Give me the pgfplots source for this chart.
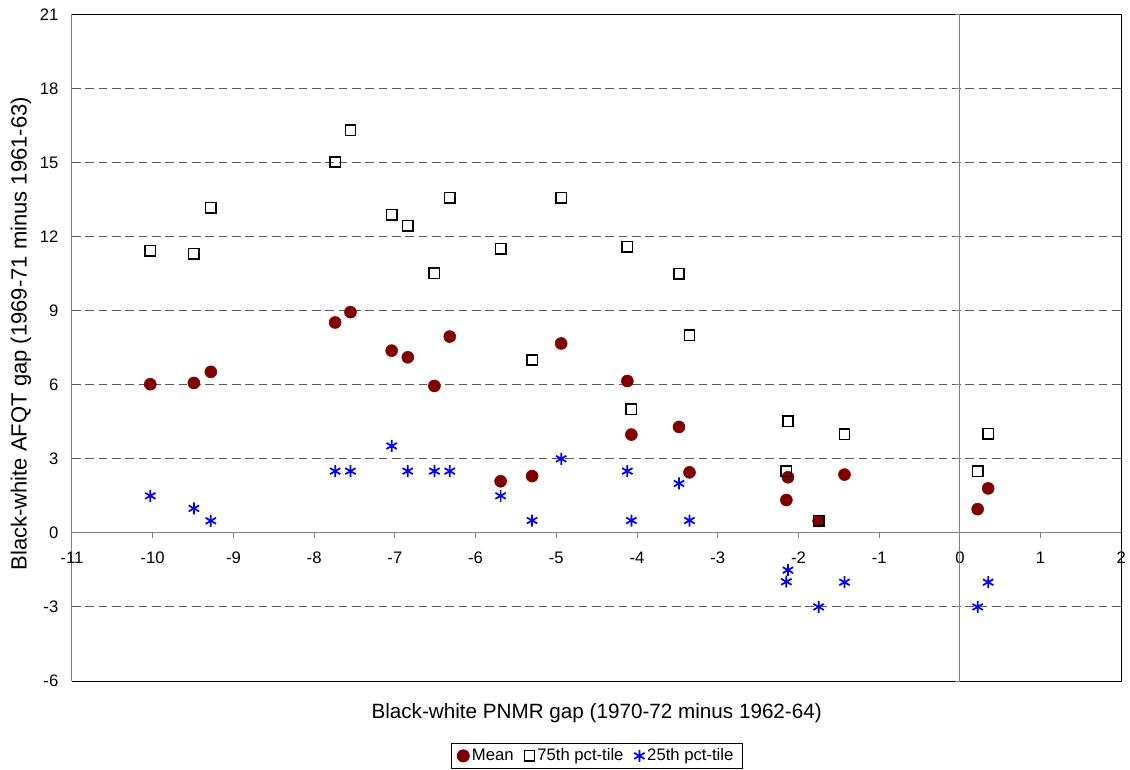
\documentclass[border=0pt]{standalone}
\usepackage{fontspec}
\setmainfont{Liberation Sans}
\usepackage{pgfplots}
\usepackage{pgfplotstable}
\pgfplotsset{compat=1.18}
\definecolor{meanred}{RGB}{128,0,0}
\definecolor{axgray}{RGB}{128,128,128}
\definecolor{gridgray}{RGB}{90,90,90}

\pgfplotstableread{
x y
-10.03 6.02
-9.49 6.07
-9.28 6.52
-7.74 8.52
-7.55 8.94
-7.04 7.38
-6.84 7.11
-6.51 5.95
-6.32 7.95
-5.69 2.09
-5.30 2.30
-4.94 7.67
-4.12 6.15
-4.07 3.98
-3.48 4.29
-3.35 2.45
-2.13 2.25
-2.15 1.33
-1.75 0.48
-1.43 2.36
0.22 0.96
0.35 1.80
}\meandata

\pgfplotstableread{
x y
-10.03 11.43
-9.49 11.30
-9.28 13.17
-7.74 15.02
-7.55 16.30
-7.04 12.88
-6.84 12.44
-6.51 10.52
-6.32 13.57
-5.69 11.50
-5.30 7.00
-4.94 13.57
-4.12 11.58
-4.07 5.01
-3.48 10.50
-3.35 8.01
-2.13 4.52
-2.15 2.50
-1.75 0.49
-1.43 4.00
0.22 2.50
0.35 4.02
}\pseventyfive

\pgfplotstableread{
x y
-10.03 1.50
-9.49 0.99
-9.28 0.49
-7.74 2.50
-7.55 2.50
-7.04 3.52
-6.84 2.50
-6.51 2.50
-6.32 2.50
-5.69 1.50
-5.30 0.50
-4.94 3.00
-4.12 2.50
-4.07 0.50
-3.48 2.00
-3.35 0.50
-2.13 -1.51
-2.15 -1.98
-1.75 -3.00
-1.43 -2.00
0.22 -3.00
0.35 -2.00
}\ptwentyfive

\begin{document}
\begin{tikzpicture}
\useasboundingbox (-54pt,-66pt) rectangle (793.5pt,510.75pt);
\begin{axis}[
  at={(0,0)}, anchor=south west,
  scale only axis, width=787pt, height=500pt,
  xmin=-11, xmax=2, ymin=-6, ymax=21,
  axis x line=middle, axis y line=left,
  axis line style={axgray, line width=0.75pt, -},
  xtick={-11,-10,...,2}, ytick={-6,-3,...,21},
  hide obscured x ticks=false,
  xtick style={axgray, line width=0.75pt},
  ytick style={draw=none},
  xtick align=outside, ytick align=outside,
  major tick length=3.75pt,
  ymajorgrids,
  grid style={gridgray, line width=0.75pt, dash pattern=on 6.5pt off 3.5pt},
  /pgf/number format/assume math mode=true,
  every tick label/.append style={font=\fontsize{12.5}{15}\selectfont},
  xticklabel style={yshift=-7pt},
  yticklabel style={xshift=-3pt},
  every axis x label/.style={at={(rel axis cs:0.5,0)}, anchor=center, yshift=-24pt, font=\fontsize{15.5}{18}\selectfont},
  every axis y label/.style={at={(rel axis cs:-0.0486,0.521)}, anchor=center, rotate=90, font=\fontsize{16.5}{19}\selectfont},
  xlabel={Black-white PNMR gap (1970-72 minus 1962-64)},
  ylabel={Black-white AFQT gap (1969-71 minus 1961-63)},
  legend columns=-1,
  legend style={at={(0.5,-0.093)}, anchor=north, draw=black, line width=0.75pt,
    font=\fontsize{12.5}{15}\selectfont, inner xsep=4.5pt, inner ysep=2pt,
    /tikz/every even column/.append style={column sep=6pt}},
  clip=false,
]
\draw[black, line width=0.75pt] (rel axis cs:0,0) -- (rel axis cs:1,0) -- (rel axis cs:1,1) -- (rel axis cs:0,1);
\draw[axgray, line width=0.75pt] (axis cs:0,-6) -- (axis cs:0,21);
\pgfplotsinvokeforeach{-6,-3,0,3,6,9,12,15,18,21}{
  \draw[axgray, line width=0.75pt] (axis cs:0,#1) -- ([xshift=-3.75pt]axis cs:0,#1);
}
\addplot[only marks, mark=*, mark size=4.5pt, color=meanred, mark options={fill=meanred, draw=meanred}] table[x=x,y=y] {\meandata};
\addlegendentry{Mean}
\addplot[only marks, mark=square, mark size=3.9pt, color=black, mark options={line width=1.1pt, draw=black, fill=none}] table[x=x,y=y] {\pseventyfive};
\addlegendentry{75th pct-tile}
\addplot[only marks, mark=asterisk, mark size=4.5pt, color=blue, mark options={line width=1.3pt, draw=blue}] table[x=x,y=y] {\ptwentyfive};
\addlegendentry{25th pct-tile}
\end{axis}
\end{tikzpicture}
\end{document}
